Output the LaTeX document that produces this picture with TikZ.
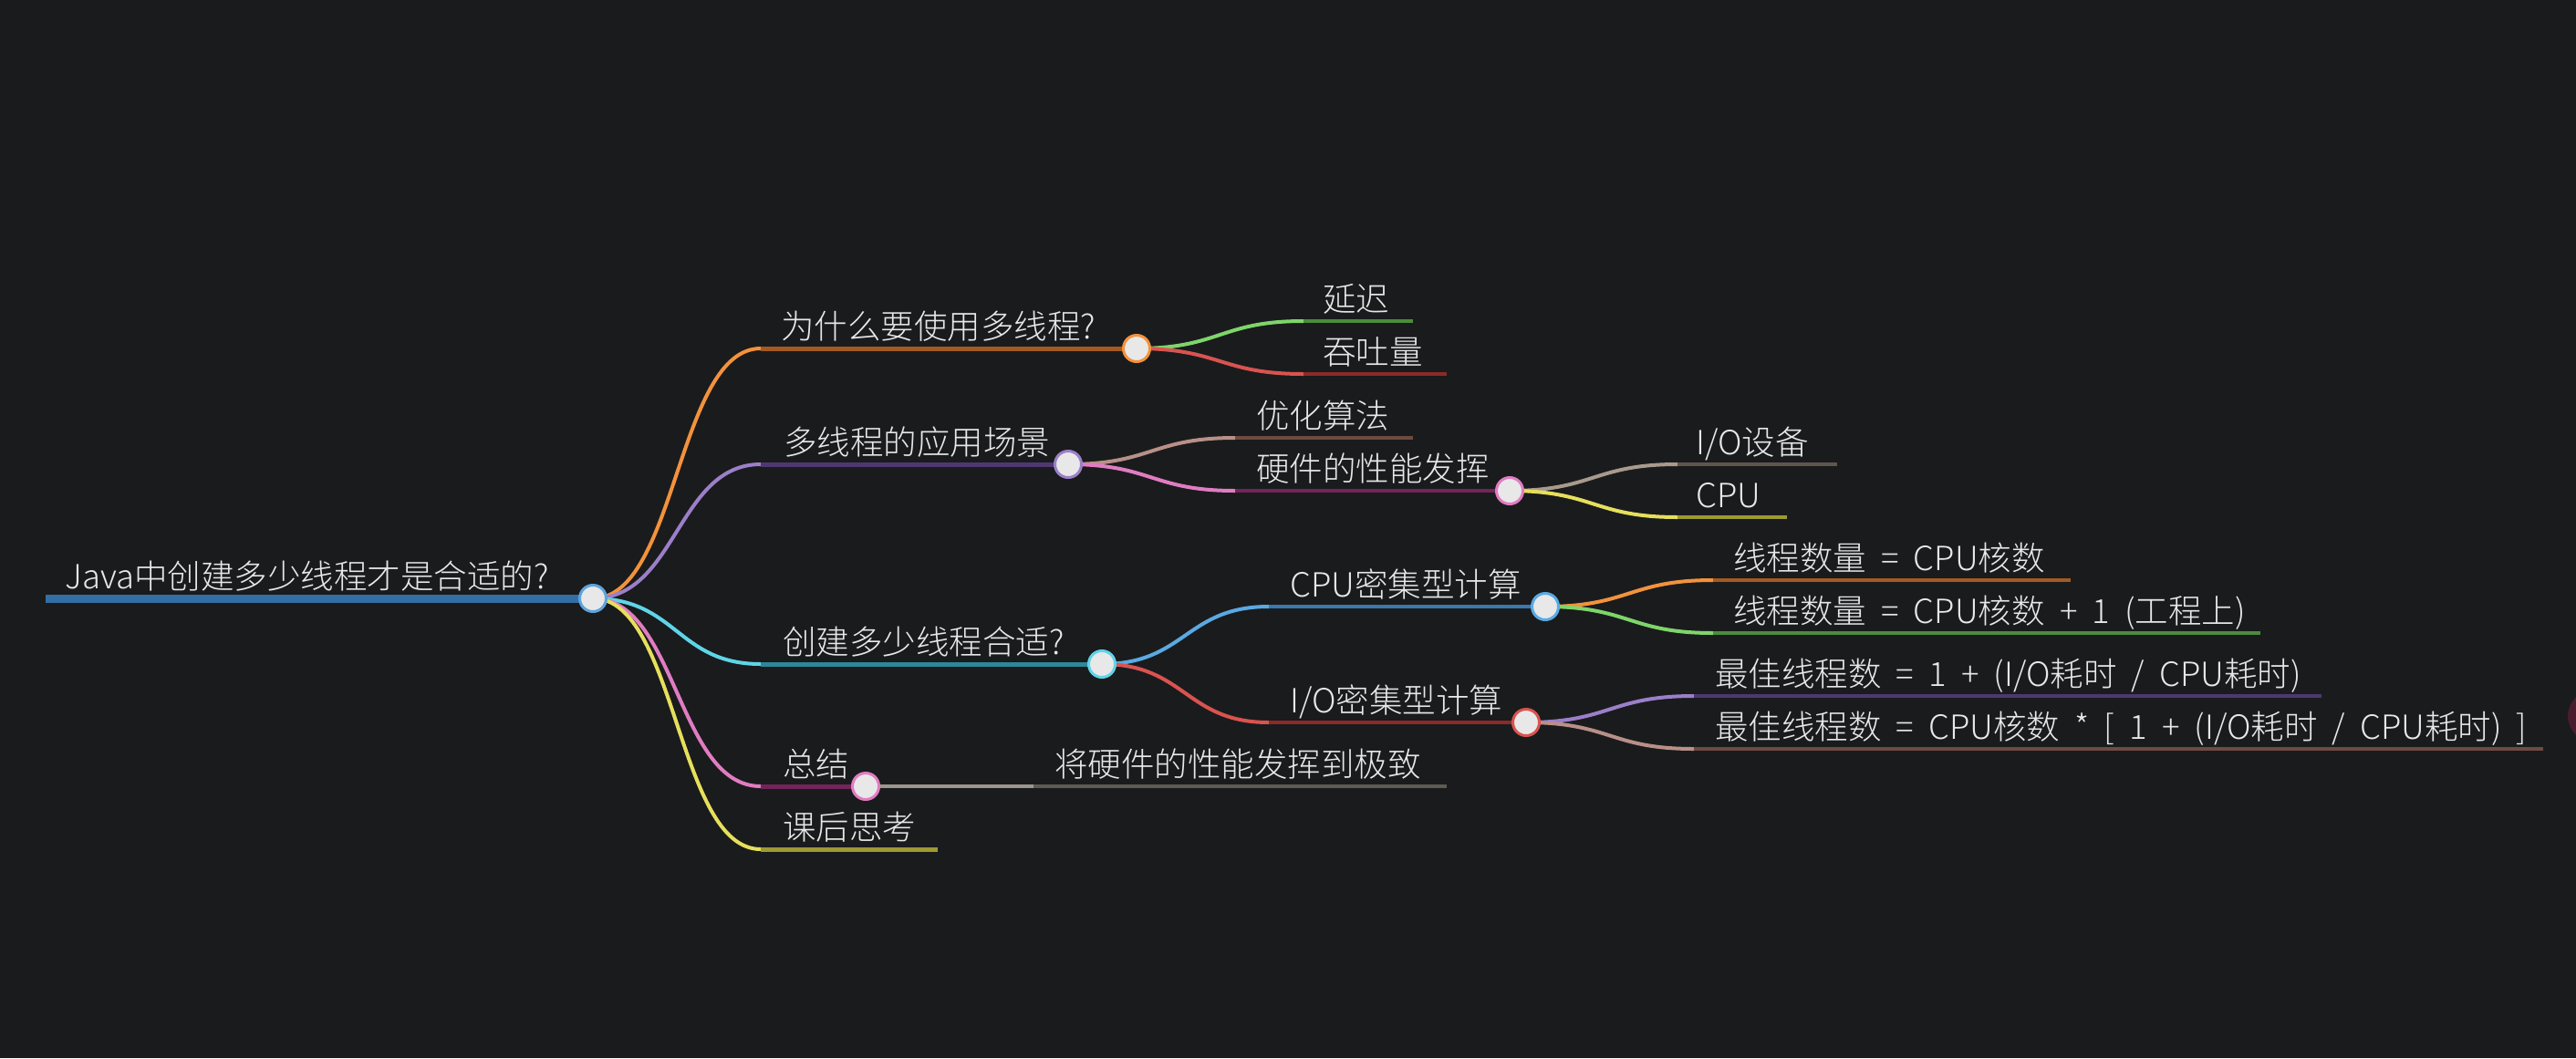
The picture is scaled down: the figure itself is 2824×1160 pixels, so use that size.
\documentclass[tikz,border=0pt]{standalone}
\usepackage{fontspec}
\IfFontExistsTF{Noto Sans CJK SC Light}
  {\setmainfont{Noto Sans CJK SC Light}[WordSpace=2]}
  {\setmainfont{Noto Sans CJK SC}[WordSpace=2]}
\usetikzlibrary{calc}
\pgfdeclarelayer{back}
\pgfdeclarelayer{bg}
\pgfsetlayers{back,bg,main}

\definecolor{canvas}{HTML}{1A1B1D}
\definecolor{txt}{HTML}{E8E8E8}
\definecolor{dotfill}{HTML}{E8E8E8}
\definecolor{rootbar}{HTML}{336EA4}
\definecolor{rootring}{HTML}{5FA3DC}
\definecolor{orangeC}{HTML}{F3923C}\definecolor{orangeL}{HTML}{A35A22}
\definecolor{purpleC}{HTML}{9B7FC9}\definecolor{purpleL}{HTML}{4F3772}
\definecolor{cyanC}{HTML}{5FD4E8}\definecolor{cyanL}{HTML}{2C8898}
\definecolor{pinkC}{HTML}{E07CC2}\definecolor{pinkL}{HTML}{73245B}
\definecolor{yellowC}{HTML}{E6DF5C}\definecolor{yellowL}{HTML}{9C9A32}
\definecolor{greenC}{HTML}{7ED56A}\definecolor{greenL}{HTML}{4B8C3C}
\definecolor{redC}{HTML}{D9534F}\definecolor{redL}{HTML}{8E2A28}
\definecolor{brownC}{HTML}{B89088}\definecolor{brownL}{HTML}{6E4B42}
\definecolor{taupeC}{HTML}{A89A8C}\definecolor{taupeL}{HTML}{5F564E}
\definecolor{blueC}{HTML}{5AA9E2}\definecolor{blueL}{HTML}{3B78AE}
\definecolor{greyC}{HTML}{9C978E}\definecolor{greyL}{HTML}{5F5B54}
\definecolor{maroon}{HTML}{4A1D2E}

\tikzset{
  lbl/.style={anchor=base west, inner sep=0pt, text=txt,
    font=\fontsize{36.5}{40}\selectfont},
  dot/.style={circle, draw=#1, line width=3pt, fill=dotfill,
    minimum size=29pt, inner sep=0pt},
  bar/.style={draw=#1, line width=5pt},
  subbar/.style={draw=#1, line width=4pt},
  link/.style={draw=#1, line width=4pt, line cap=round},
  curve/.style={to path={let \p1=(\tikztostart), \p2=(\tikztotarget) in
    .. controls ({(\x1+\x2)/2},\y1) and ({(\x1+\x2)/2},\y2) .. (\tikztotarget)}}
}

\begin{document}
\begin{tikzpicture}[x=1pt,y=-1pt]
\useasboundingbox (0,0) rectangle (2824,1160);
\begin{pgfonlayer}{back}
  \fill[canvas] (0,0) rectangle (2824,1160);
  \fill[maroon] (2843,785) circle (28);
\end{pgfonlayer}

% ---- root ----
\coordinate (root-l) at (50,656);
\node[dot=rootring] (root) at (650,656) {};
\node[lbl] (root-t) at (71,645) {Java中创建多少线程才是合适的?};

% ---- first level ----
\coordinate (a-l) at (834,382);
\node[dot=orangeC] (a) at (1246,382) {};
\node[lbl] (a-t) at (856,371) {为什么要使用多线程?};

\coordinate (b-l) at (834,509);
\node[dot=purpleC] (b) at (1171,509) {};
\node[lbl] (b-t) at (859,498) {多线程的应用场景};

\coordinate (c-l) at (834,728);
\node[dot=cyanC] (c) at (1208,728) {};
\node[lbl] (c-t) at (858,717) {创建多少线程合适?};

\coordinate (d-l) at (834,862);
\node[dot=pinkC] (d) at (949,862) {};
\node[lbl] (d-t) at (858,851) {总结};

\coordinate (e-l) at (834,931);
\coordinate (e-r) at (1028,931);
\node[lbl] (e-t) at (858,920) {课后思考};

% ---- second level ----
\coordinate (a1-l) at (1429,352); \coordinate (a1-r) at (1549,352);
\node[lbl] (a1-t) at (1450,341) {延迟};
\coordinate (a2-l) at (1429,410); \coordinate (a2-r) at (1586,410);
\node[lbl] (a2-t) at (1450,399) {吞吐量};

\coordinate (b1-l) at (1354,480); \coordinate (b1-r) at (1549,480);
\node[lbl] (b1-t) at (1377,469) {优化算法};
\coordinate (b2-l) at (1354,538);
\node[dot=pinkC] (b2) at (1655,538) {};
\node[lbl] (b2-t) at (1377,527) {硬件的性能发挥};

\coordinate (c1-l) at (1391,665);
\node[dot=blueC] (c1) at (1694,665) {};
\node[lbl] (c1-t) at (1414,654) {CPU密集型计算};
\coordinate (c2-l) at (1391,792);
\node[dot=redC] (c2) at (1673,792) {};
\node[lbl] (c2-t) at (1414,781) {I/O密集型计算};

\coordinate (d1-l) at (1133,862); \coordinate (d1-r) at (1586,862);
\node[lbl] (d1-t) at (1156,851) {将硬件的性能发挥到极致};

% ---- third level ----
\coordinate (b21-l) at (1839,509); \coordinate (b21-r) at (2014,509);
\node[lbl] (b21-t) at (1859,498) {I/O设备};
\coordinate (b22-l) at (1839,567); \coordinate (b22-r) at (1959,567);
\node[lbl] (b22-t) at (1859,556) {CPU};

\coordinate (c11-l) at (1878,636); \coordinate (c11-r) at (2270,636);
\node[lbl] (c11-t) at (1900,625) {线程数量 = CPU核数};
\coordinate (c12-l) at (1878,694); \coordinate (c12-r) at (2478,694);
\node[lbl] (c12-t) at (1900,683) {线程数量 = CPU核数 + 1 (工程上)};

\coordinate (c21-l) at (1857,763); \coordinate (c21-r) at (2545,763);
\node[lbl] (c21-t) at (1880,752) {最佳线程数 = 1 + (I/O耗时 / CPU耗时)};
\coordinate (c22-l) at (1857,821); \coordinate (c22-r) at (2788,821);
\node[lbl] (c22-t) at (1880,810) {最佳线程数 = CPU核数 * [ 1 + (I/O耗时 / CPU耗时) ]};

% ---- connectors and underlines ----
\begin{pgfonlayer}{bg}
  \draw[rootbar, line width=9pt] (root-l) -- (root.center);

  \draw[link=orangeC] (root.center) to[curve] (a-l);
  \draw[link=purpleC] (root.center) to[curve] (b-l);
  \draw[link=cyanC]   (root.center) to[curve] (c-l);
  \draw[link=pinkC]   (root.center) to[curve] (d-l);
  \draw[link=yellowC] (root.center) to[curve] (e-l);

  \draw[bar=orangeL] (a-l) -- (a.center);
  \draw[bar=purpleL] (b-l) -- (b.center);
  \draw[bar=cyanL]   (c-l) -- (c.center);
  \draw[bar=pinkL]   (d-l) -- (d.center);
  \draw[bar=yellowL] (e-l) -- (e-r);

  \draw[link=greenC] (a.center) to[curve] (a1-l);
  \draw[link=redC]   (a.center) to[curve] (a2-l);
  \draw[subbar=greenL] (a1-l) -- (a1-r);
  \draw[subbar=redL]   (a2-l) -- (a2-r);

  \draw[link=brownC] (b.center) to[curve] (b1-l);
  \draw[link=pinkC]  (b.center) to[curve] (b2-l);
  \draw[subbar=brownL] (b1-l) -- (b1-r);
  \draw[subbar=pinkL]  (b2-l) -- (b2.center);

  \draw[link=taupeC]  (b2.center) to[curve] (b21-l);
  \draw[link=yellowC] (b2.center) to[curve] (b22-l);
  \draw[subbar=taupeL]  (b21-l) -- (b21-r);
  \draw[subbar=yellowL] (b22-l) -- (b22-r);

  \draw[link=blueC] (c.center) to[curve] (c1-l);
  \draw[link=redC]  (c.center) to[curve] (c2-l);
  \draw[subbar=blueL] (c1-l) -- (c1.center);
  \draw[subbar=redL]  (c2-l) -- (c2.center);

  \draw[link=orangeC] (c1.center) to[curve] (c11-l);
  \draw[link=greenC]  (c1.center) to[curve] (c12-l);
  \draw[subbar=orangeL] (c11-l) -- (c11-r);
  \draw[subbar=greenL]  (c12-l) -- (c12-r);

  \draw[link=purpleC] (c2.center) to[curve] (c21-l);
  \draw[link=brownC]  (c2.center) to[curve] (c22-l);
  \draw[subbar=purpleL] (c21-l) -- (c21-r);
  \draw[subbar=brownL]  (c22-l) -- (c22-r);

  \draw[link=greyC] (d.center) -- (d1-l);
  \draw[subbar=greyL] (d1-l) -- (d1-r);
\end{pgfonlayer}
\end{tikzpicture}
\end{document}
